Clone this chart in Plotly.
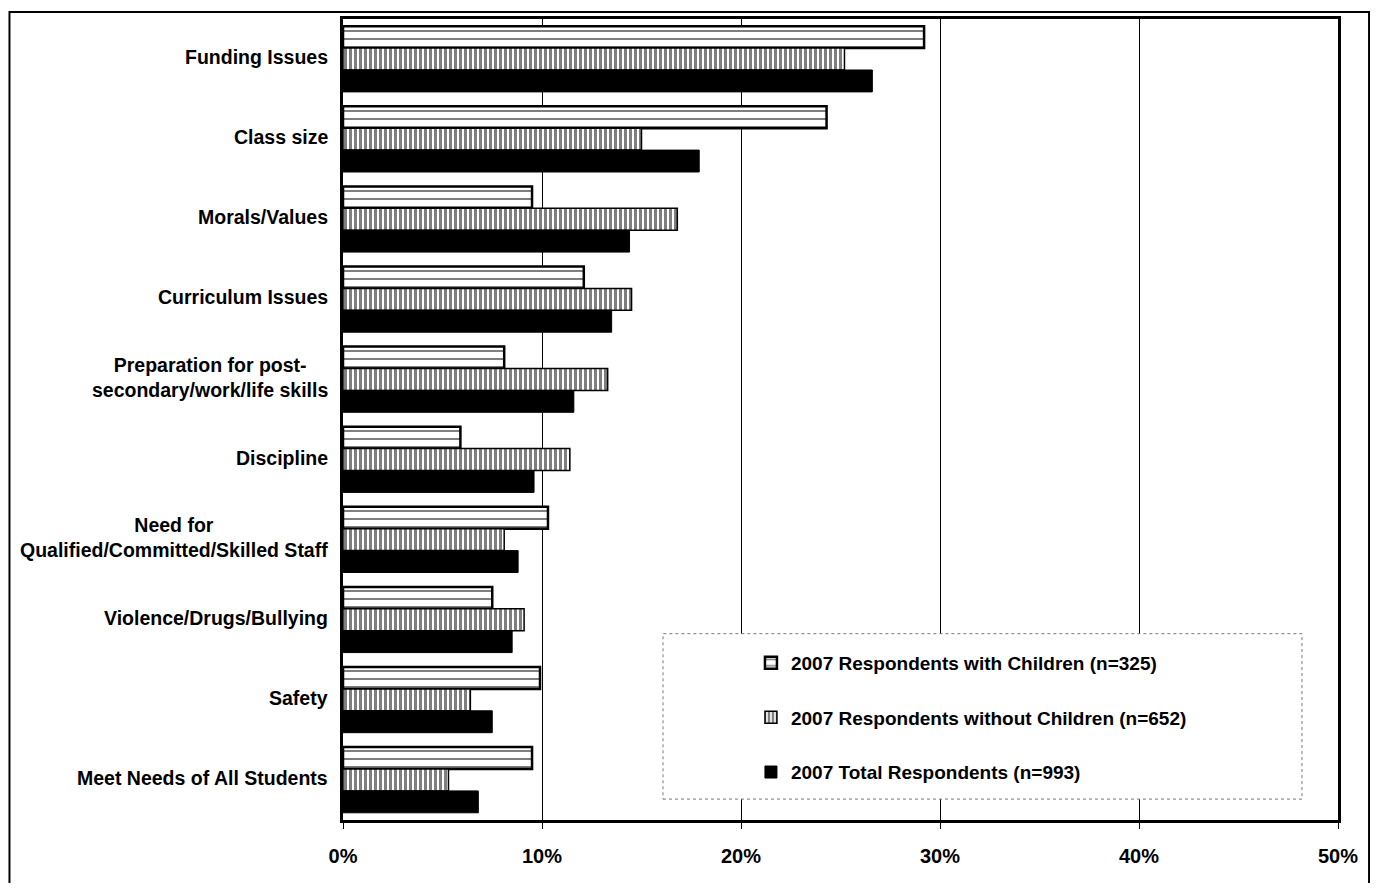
import plotly.graph_objects as go

categories = [
    "Funding Issues",
    "Class size",
    "Morals/Values",
    "Curriculum Issues",
    "Preparation for post-<br>secondary/work/life skills",
    "Discipline",
    "Need for<br>Qualified/Committed/Skilled Staff",
    "Violence/Drugs/Bullying",
    "Safety",
    "Meet Needs of All Students",
]
with_children = [29.2, 24.3, 9.5, 12.1, 8.1, 5.9, 10.3, 7.5, 9.9, 9.5]
without_children = [25.2, 15.0, 16.8, 14.5, 13.3, 11.4, 8.1, 9.1, 6.4, 5.3]
total = [26.6, 17.9, 14.4, 13.5, 11.6, 9.6, 8.8, 8.5, 7.5, 6.8]

series_names = [
    "2007 Respondents with Children (n=325)",
    "2007 Respondents without Children (n=652)",
    "2007 Total Respondents (n=993)",
]
x_ticks = [0, 10, 20, 30, 40, 50]
x_tick_labels = ["0%", "10%", "20%", "30%", "40%", "50%"]

FONT = "Liberation Sans, Arial, sans-serif"

fig = go.Figure()
fig.add_trace(go.Bar(
    y=categories, x=with_children, orientation="h", name=series_names[0],
    legendgroup="a",
    marker=dict(color="white", line=dict(color="black", width=2.5),
                pattern=dict(shape="-", fgcolor="black", bgcolor="white", size=8, solidity=0.25)),
))
fig.add_trace(go.Bar(
    y=categories, x=without_children, orientation="h", name=series_names[1],
    legendgroup="b",
    marker=dict(color="white", line=dict(color="black", width=1.5),
                pattern=dict(shape="|", fgcolor="black", bgcolor="white", size=5, solidity=0.6)),
))
fig.add_trace(go.Bar(
    y=categories, x=total, orientation="h", name=series_names[2],
    legendgroup="c",
    marker=dict(color="black", line=dict(color="black", width=1)),
))

for cat in categories:
    fig.add_annotation(
        x=0, xref="paper", y=cat, yref="y", text="<b>" + cat + "</b>",
        xanchor="right", yanchor="middle", align="center", xshift=-13, yshift=2,
        showarrow=False, font=dict(family=FONT, size=19.5, color="black"),
    )

# legend box
fig.add_shape(type="rect", xref="paper", yref="paper",
              x0=0.3216, x1=0.9638, y0=0.0261, y1=0.2326,
              line=dict(color="#777777", width=1, dash="dot"),
              fillcolor="white", layer="above")
# outer frame
fig.add_shape(type="rect", xref="paper", yref="paper",
              x0=-0.3352, x1=1.0312, y0=-0.12, y1=1.0087,
              line=dict(color="black", width=2), fillcolor="rgba(0,0,0,0)", layer="above")

fig.update_layout(
    width=1362, height=875,
    margin=dict(l=335, r=32, t=8, b=63),
    paper_bgcolor="white", plot_bgcolor="white",
    barmode="group", bargap=0.18, bargroupgap=0,
    font=dict(family=FONT, size=16, color="black"),
    showlegend=True,
    legend=dict(x=0.41, y=0.22, xanchor="left", yanchor="top",
                bgcolor="rgba(0,0,0,0)", borderwidth=0,
                font=dict(family=FONT, size=19, color="black", weight="bold"),
                tracegroupgap=27, traceorder="grouped", itemwidth=30),
    xaxis=dict(range=[0, 50], tickvals=x_ticks, ticktext=["<b>%s</b>" % t for t in x_tick_labels],
               tickfont=dict(family=FONT, size=20, color="black"),
               showgrid=True, gridcolor="black", gridwidth=1,
               showline=True, linecolor="black", linewidth=3, mirror=True,
               ticks="outside", ticklen=6, tickcolor="black",
               ticklabelstandoff=10, zeroline=False, fixedrange=True),
    yaxis=dict(autorange="reversed", showticklabels=False, showgrid=False,
               showline=True, linecolor="black", linewidth=3, mirror=True,
               ticks="", fixedrange=True),
)

fig.write_html("out.html")
